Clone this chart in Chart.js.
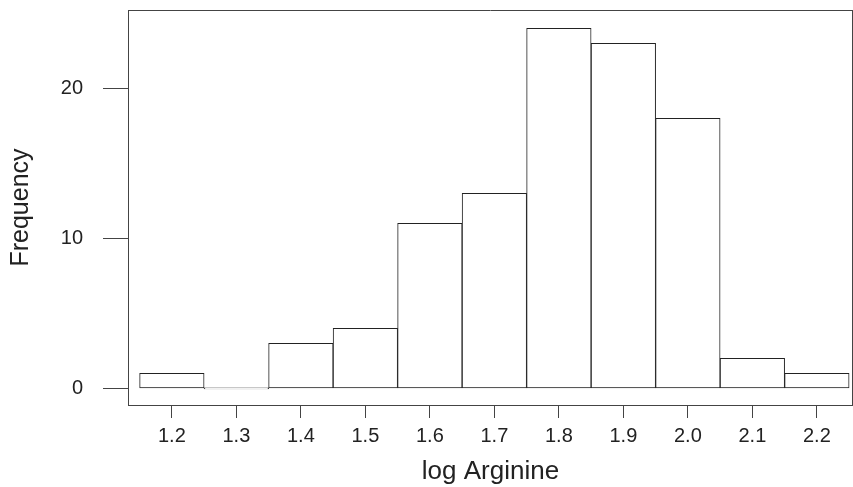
<!DOCTYPE html>
<html>
<head>
<meta charset="utf-8">
<script src="https://cdn.jsdelivr.net/npm/chart.js@4/dist/chart.umd.min.js"></script>
<style>
html,body{margin:0;padding:0;background:#fff;}
#wrap{width:853px;height:487px;position:relative;}
</style>
</head>
<body>
<div id="wrap"><canvas id="c" width="853" height="487"></canvas></div>
<script>
const binCenters = [1.2, 1.3, 1.4, 1.5, 1.6, 1.7, 1.8, 1.9, 2.0, 2.1, 2.2];
const counts = [1, 0, 3, 4, 11, 13, 24, 23, 18, 2, 1];
const xTicks = [1.2, 1.3, 1.4, 1.5, 1.6, 1.7, 1.8, 1.9, 2.0, 2.1, 2.2];
const yTicks = [0, 10, 20];
const xTitle = 'log Arginine';
const yTitle = 'Frequency';

const FONT = "'Liberation Sans', Arial, sans-serif";

const framePlugin = {
  id: 'frame',
  afterDraw(chart) {
    const a = chart.chartArea, ctx = chart.ctx;
    ctx.save();
    ctx.strokeStyle = '#444';
    ctx.lineWidth = 1;
    ctx.beginPath();
    ctx.moveTo(a.left, a.top + 0.5);
    ctx.lineTo(a.right, a.top + 0.5);
    ctx.moveTo(a.right - 0.5, a.top);
    ctx.lineTo(a.right - 0.5, a.bottom);
    ctx.stroke();
    ctx.restore();
  }
};

new Chart(document.getElementById('c'), {
  type: 'bar',
  data: {
    datasets: [{
      data: binCenters.map((x, i) => ({x: x, y: counts[i]})),
      backgroundColor: '#ffffff',
      borderColor: '#222',
      borderWidth: 1,
      borderSkipped: false,
      barPercentage: 1,
      categoryPercentage: 1,
      minBarLength: 1
    }]
  },
  options: {
    responsive: false,
    animation: false,
    devicePixelRatio: 1,
    layout: {padding: {top: 10, right: -1, left: 0, bottom: 0}},
    plugins: {legend: {display: false}, tooltip: {enabled: false}},
    scales: {
      x: {
        type: 'linear',
        offset: false,
        min: 1.132,
        max: 2.256,
        afterFit(s) { s.height = 82; s.paddingLeft = 0; s.paddingRight = 0; },
        afterBuildTicks(s) { s.ticks = xTicks.map(v => ({value: v})); },
        border: {display: true, color: '#444', width: 1},
        grid: {offset: false, drawOnChartArea: false, tickLength: 13, color: '#444', tickColor: '#444'},
        ticks: {
          font: {family: FONT, size: 20},
          color: '#222',
          padding: 6,
          maxRotation: 0,
          autoSkip: false,
          callback: (v) => Number(v).toFixed(1)
        },
        title: {display: true, text: xTitle, font: {family: FONT, size: 26}, color: '#222', padding: {top: 3, bottom: 0}}
      },
      y: {
        type: 'linear',
        min: -1.113,
        max: 25.22,
        afterFit(s) { s.width = 128; s.paddingTop = 0; s.paddingBottom = 0; },
        afterBuildTicks(s) { s.ticks = yTicks.map(v => ({value: v})); },
        border: {display: true, color: '#444', width: 1},
        grid: {drawOnChartArea: false, tickLength: 25, color: '#444', tickColor: '#444'},
        ticks: {
          font: {family: FONT, size: 20},
          color: '#222',
          padding: 20,
          callback: (v) => String(v)
        },
        title: {display: true, text: yTitle, font: {family: FONT, size: 25}, color: '#222', padding: {top: 6, bottom: 0}}
      }
    }
  },
  plugins: [framePlugin]
});
</script>
</body>
</html>
